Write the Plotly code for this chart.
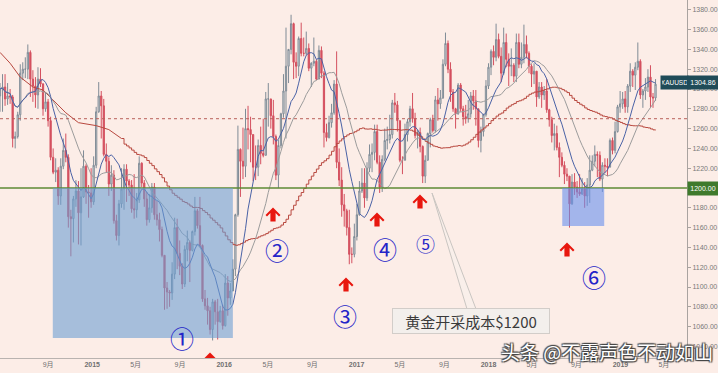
import plotly.graph_objects as go
import pandas as pd

# ---------------- data (weekly XAUUSD candles) ----------------
first_week = "2014-04-21"

ohlc_2014 = [
    (1293, 1306, 1277, 1300), (1300, 1315, 1277, 1302), (1302, 1315, 1283, 1290), (1290, 1306, 1284, 1293),
    (1293, 1300, 1285, 1292), (1292, 1294, 1241, 1250), (1250, 1257, 1240, 1252), (1252, 1277, 1250, 1274),
    (1274, 1325, 1268, 1316), (1316, 1327, 1309, 1320), (1320, 1332, 1311, 1320), (1320, 1345, 1310, 1337),
    (1337, 1339, 1292, 1310), (1310, 1319, 1287, 1303), (1303, 1312, 1281, 1294), (1294, 1322, 1280, 1310),
    (1310, 1321, 1302, 1305), (1305, 1306, 1273, 1280), (1280, 1296, 1277, 1287), (1287, 1290, 1262, 1268),
    (1268, 1272, 1228, 1231), (1231, 1240, 1214, 1216), (1216, 1230, 1206, 1218), (1218, 1221, 1183, 1192),
    (1192, 1230, 1183, 1222), (1222, 1250, 1219, 1238), (1238, 1255, 1226, 1231), (1231, 1234, 1160, 1171),
    (1171, 1178, 1131, 1169), (1169, 1192, 1145, 1189), (1189, 1208, 1181, 1197), (1197, 1207, 1143, 1175),
    (1175, 1220, 1142, 1191), (1191, 1238, 1190, 1222), (1222, 1224, 1184, 1196), (1196, 1203, 1170, 1195),
    (1195, 1220, 1180, 1186),
]
ohlc_2015 = [
    (1186, 1232, 1183, 1223), (1223, 1282, 1220, 1277), (1277, 1307, 1276, 1293), (1293, 1298, 1250, 1283),
    (1283, 1290, 1232, 1234), (1234, 1245, 1216, 1227), (1227, 1231, 1192, 1204), (1204, 1223, 1197, 1213),
    (1213, 1218, 1164, 1167), (1167, 1173, 1147, 1152), (1152, 1188, 1142, 1184), (1184, 1220, 1180, 1199),
    (1199, 1224, 1178, 1219), (1219, 1224, 1186, 1207), (1207, 1209, 1192, 1203), (1203, 1208, 1175, 1179),
    (1179, 1214, 1169, 1178), (1178, 1195, 1170, 1188), (1188, 1232, 1185, 1225), (1225, 1226, 1201, 1205),
    (1205, 1208, 1181, 1189), (1189, 1196, 1162, 1168), (1168, 1194, 1165, 1180), (1180, 1205, 1175, 1201),
    (1201, 1205, 1168, 1173), (1173, 1187, 1162, 1168), (1168, 1175, 1146, 1158), (1158, 1161, 1130, 1132),
    (1132, 1132, 1077, 1099), (1099, 1105, 1078, 1095), (1095, 1097, 1080, 1094), (1094, 1125, 1087, 1113),
    (1113, 1170, 1108, 1160), (1160, 1169, 1118, 1134), (1134, 1147, 1112, 1121), (1121, 1124, 1098, 1103),
    (1103, 1142, 1100, 1138), (1138, 1157, 1126, 1145), (1145, 1147, 1105, 1137), (1137, 1157, 1136, 1156),
    (1156, 1191, 1152, 1177), (1177, 1179, 1159, 1162), (1162, 1191, 1140, 1142), (1142, 1143, 1085, 1088),
    (1088, 1097, 1077, 1081), (1081, 1089, 1062, 1076), (1076, 1080, 1052, 1057), (1057, 1088, 1046, 1085),
    (1085, 1087, 1062, 1075), (1075, 1088, 1047, 1065), (1065, 1081, 1064, 1076), (1076, 1082, 1057, 1061),
]
ohlc_2016 = [
    (1061, 1113, 1060, 1104), (1104, 1111, 1071, 1089), (1089, 1104, 1082, 1096), (1096, 1128, 1096, 1118),
    (1118, 1174, 1111, 1173), (1173, 1263, 1171, 1239), (1239, 1240, 1191, 1227), (1227, 1261, 1209, 1222),
    (1222, 1280, 1211, 1260), (1260, 1283, 1239, 1259), (1259, 1272, 1226, 1254), (1254, 1254, 1207, 1221),
    (1221, 1243, 1208, 1221), (1221, 1249, 1212, 1243), (1243, 1262, 1224, 1235), (1235, 1270, 1231, 1233),
    (1233, 1297, 1233, 1290), (1290, 1306, 1262, 1290), (1290, 1290, 1260, 1273), (1273, 1289, 1244, 1252),
    (1252, 1254, 1208, 1213), (1213, 1249, 1200, 1243), (1243, 1276, 1240, 1275), (1275, 1315, 1271, 1298),
    (1298, 1362, 1250, 1323), (1323, 1340, 1306, 1340), (1340, 1375, 1335, 1366), (1366, 1367, 1310, 1327),
    (1327, 1337, 1311, 1323), (1323, 1353, 1313, 1351), (1351, 1367, 1333, 1336), (1336, 1352, 1333, 1336),
    (1336, 1358, 1334, 1341), (1341, 1346, 1318, 1321), (1321, 1327, 1302, 1326), (1326, 1352, 1323, 1328),
    (1328, 1330, 1309, 1310), (1310, 1344, 1310, 1339), (1339, 1343, 1311, 1316), (1316, 1318, 1241, 1256),
    (1256, 1265, 1247, 1251), (1251, 1273, 1250, 1266), (1266, 1285, 1261, 1276), (1276, 1309, 1274, 1305),
    (1305, 1338, 1220, 1226), (1226, 1240, 1202, 1208), (1208, 1221, 1171, 1183), (1183, 1194, 1161, 1177),
    (1177, 1179, 1152, 1160), (1160, 1178, 1123, 1133), (1133, 1140, 1124, 1133), (1133, 1164, 1130, 1151),
]
ohlc_2017 = [
    (1151, 1184, 1147, 1173), (1173, 1207, 1172, 1197), (1197, 1220, 1195, 1205), (1205, 1220, 1180, 1190),
    (1190, 1226, 1187, 1220), (1220, 1244, 1216, 1234), (1234, 1245, 1216, 1236), (1236, 1264, 1228, 1257),
    (1257, 1264, 1224, 1226), (1226, 1233, 1195, 1201), (1201, 1233, 1196, 1229), (1229, 1260, 1227, 1248),
    (1248, 1262, 1239, 1249), (1249, 1274, 1245, 1254), (1254, 1289, 1250, 1286), (1286, 1296, 1276, 1284),
    (1284, 1288, 1257, 1268), (1268, 1268, 1226, 1228), (1228, 1232, 1214, 1228), (1228, 1265, 1228, 1254),
    (1254, 1270, 1247, 1267), (1267, 1283, 1262, 1280), (1280, 1296, 1266, 1270), (1270, 1276, 1250, 1253),
    (1253, 1259, 1240, 1256), (1256, 1261, 1236, 1242), (1242, 1243, 1205, 1212), (1212, 1233, 1205, 1228),
    (1228, 1256, 1228, 1255), (1255, 1271, 1241, 1269), (1269, 1274, 1256, 1258), (1258, 1293, 1256, 1289),
    (1289, 1301, 1268, 1285), (1285, 1299, 1280, 1291), (1291, 1330, 1290, 1325), (1325, 1357, 1323, 1346),
    (1346, 1349, 1316, 1320), (1320, 1327, 1287, 1297), (1297, 1300, 1277, 1280), (1280, 1281, 1260, 1275),
    (1275, 1306, 1274, 1304), (1304, 1306, 1277, 1280), (1280, 1283, 1263, 1272), (1272, 1284, 1265, 1270),
    (1270, 1289, 1266, 1275), (1275, 1297, 1271, 1293), (1293, 1299, 1279, 1288), (1288, 1299, 1263, 1280),
    (1280, 1280, 1241, 1248), (1248, 1262, 1236, 1257), (1257, 1275, 1252, 1274), (1274, 1309, 1272, 1303),
]
ohlc_2018 = [
    (1303, 1326, 1300, 1322), (1322, 1340, 1314, 1338), (1338, 1344, 1324, 1332), (1332, 1366, 1328, 1350),
    (1350, 1356, 1331, 1333), (1333, 1342, 1307, 1316), (1316, 1362, 1314, 1347), (1347, 1356, 1322, 1330),
    (1330, 1336, 1303, 1323), (1323, 1341, 1313, 1324), (1324, 1326, 1307, 1313), (1313, 1356, 1307, 1347),
    (1347, 1356, 1321, 1325), (1325, 1347, 1321, 1332), (1332, 1365, 1326, 1345), (1345, 1354, 1331, 1336),
    (1336, 1338, 1316, 1323), (1323, 1325, 1302, 1315), (1315, 1326, 1305, 1318), (1318, 1318, 1282, 1292),
    (1292, 1307, 1290, 1302), (1302, 1307, 1281, 1294), (1294, 1303, 1289, 1298), (1298, 1310, 1276, 1279),
    (1279, 1280, 1262, 1269), (1269, 1272, 1246, 1253), (1253, 1265, 1238, 1255), (1255, 1263, 1238, 1241),
    (1241, 1246, 1211, 1231), (1231, 1236, 1221, 1223), (1223, 1227, 1204, 1214), (1214, 1220, 1207, 1212),
    (1212, 1212, 1160, 1184), (1184, 1214, 1183, 1206), (1206, 1215, 1193, 1201), (1201, 1207, 1190, 1196),
    (1196, 1214, 1192, 1194), (1194, 1210, 1193, 1199), (1199, 1206, 1180, 1192), (1192, 1210, 1182, 1203),
    (1203, 1233, 1185, 1218), (1218, 1233, 1217, 1227), (1227, 1243, 1222, 1234), (1234, 1237, 1211, 1233),
    (1233, 1237, 1207, 1209), (1209, 1226, 1196, 1223), (1223, 1230, 1215, 1222), (1222, 1230, 1212, 1221),
    (1221, 1250, 1221, 1248), (1248, 1251, 1234, 1238), (1238, 1267, 1235, 1257), (1257, 1284, 1256, 1282),
    (1282, 1298, 1276, 1285),
]
ohlc_2019 = [
    (1285, 1297, 1280, 1290), (1290, 1298, 1276, 1282), (1282, 1305, 1276, 1303), (1303, 1326, 1297, 1318),
    (1318, 1320, 1302, 1314), (1314, 1327, 1299, 1322), (1322, 1347, 1319, 1328), (1328, 1330, 1290, 1294),
    (1294, 1300, 1281, 1298), (1298, 1311, 1289, 1302), (1302, 1320, 1297, 1312), (1312, 1324, 1281, 1292),
    (1292, 1296, 1281, 1291), (1291, 1310, 1288, 1304.86),
]

# moving-average periods (blue / grey / red)
ma_fast_len = 10
ma_mid_len = 20
ma_slow_len = 50
# red (slow) MA before enough history exists: values
ma_slow_early_dates = ["2014-04-21", "2014-05-19", "2014-06-16", "2014-07-21", "2014-08-18", "2014-09-15",
                       "2014-10-20", "2014-11-24", "2015-01-12", "2015-02-16", "2015-03-23"]
ma_slow_early_vals = [1337, 1326, 1312, 1302, 1299, 1289, 1276, 1266, 1263, 1259, 1250]

support_level = 1200
dashed_level = 1270
last_price = "1304.86"
symbol = "XAUUSD"

tick_dates = ["2014-05-01", "2014-09-01", "2015-01-01", "2015-05-01", "2015-09-01", "2016-01-01",
              "2016-05-01", "2016-09-01", "2017-01-01", "2017-05-01", "2017-09-01", "2018-01-01",
              "2018-05-01", "2018-09-01", "2019-01-01", "2019-05-01"]
tick_text = ["5月", "9月", "<b>2015</b>", "5月", "9月", "<b>2016</b>", "5月", "9月", "<b>2017</b>",
             "5月", "9月", "<b>2018</b>", "5月", "9月", "<b>2019</b>", "5月"]
ytick_vals = [v for v in range(1040, 1381, 20) if v != 1200]   # 1200 is shown by its own tag

zone_boxes = [  # (start, end, low, high, colour)
    ("2014-09-14", "2016-01-25", 1048.5, 1200, "rgba(109,159,211,0.60)"),
    ("2018-07-24", "2018-11-17", 1161.6, 1200, "rgba(104,144,239,0.60)"),
]

# ---------------- build ----------------
rows = ohlc_2014 + ohlc_2015 + ohlc_2016 + ohlc_2017 + ohlc_2018 + ohlc_2019
dates = pd.date_range(first_week, periods=len(rows), freq="7D")
df = pd.DataFrame(rows, columns=["o", "h", "l", "c"], index=dates)

ma_fast = df["c"].rolling(ma_fast_len, min_periods=1).mean()
ma_mid = df["c"].rolling(ma_mid_len, min_periods=1).mean()
ma_slow = df["c"].rolling(ma_slow_len).mean().dropna()
early_x = list(pd.to_datetime(ma_slow_early_dates))
late_x = [early_x[-1]] + list(ma_slow.index)
late_y = [ma_slow_early_vals[-1]] + list(ma_slow.values)

BG = "#fcede7"
FIG_W, FIG_H = 718, 373
PLOT_W, PLOT_H = 687, 358


def fx(px):
    return px / PLOT_W


def fy(py):
    return 1 - py / PLOT_H


fig = go.Figure()
fig.add_trace(go.Candlestick(
    x=df.index, open=df["o"], high=df["h"], low=df["l"], close=df["c"],
    increasing=dict(line=dict(color="#7f8b96", width=1), fillcolor="#e8e8e8"),
    decreasing=dict(line=dict(color="#d4505f", width=1), fillcolor="#d4505f"),
    hoverinfo="skip",
))
SLOW_COL = "#b8483f"
fig.add_trace(go.Scatter(x=early_x, y=ma_slow_early_vals, mode="lines",
                         line=dict(color=SLOW_COL, width=1), hoverinfo="skip"))
fig.add_trace(go.Scatter(x=late_x, y=late_y, mode="lines",
                         line=dict(color=SLOW_COL, width=1, shape="hv"), hoverinfo="skip"))
fig.add_trace(go.Scatter(x=ma_mid.index, y=ma_mid.values, mode="lines", line=dict(color="#9c9c9c", width=1),
                         hoverinfo="skip"))
fig.add_trace(go.Scatter(x=ma_fast.index, y=ma_fast.values, mode="lines", line=dict(color="#4a62a6", width=1),
                         hoverinfo="skip"))

shapes = []
shapes.append(dict(type="line", xref="paper", x0=0, x1=1, yref="y", y0=dashed_level, y1=dashed_level,
                   line=dict(color="#b8605a", width=1, dash="dot"), layer="above"))
shapes.append(dict(type="line", xref="paper", x0=0, x1=1, yref="y", y0=support_level, y1=support_level,
                   line=dict(color="#5e8a35", width=1.5), layer="above"))
for x0, x1, y0, y1, col in zone_boxes:
    shapes.append(dict(type="rect", xref="x", yref="y", x0=x0, x1=x1, y0=y0, y1=y1,
                       fillcolor=col, line=dict(width=0), layer="above"))

ARROW = "M 0 7.5 L 7.5 0 L 6 -1.5 L 2.6 2 L 2.6 -6.5 L -2.6 -6.5 L -2.6 2 L -6 -1.5 L -7.5 0 Z"
for cx, cy in [(273, 215), (346, 285), (377, 220), (420, 202), (567, 250)]:
    shapes.append(dict(type="path", xref="paper", yref="paper", xsizemode="pixel", ysizemode="pixel",
                       xanchor=fx(cx), yanchor=fy(cy), path=ARROW, fillcolor="#e8170f",
                       line=dict(width=0), layer="above"))
# low marker on the bottom axis
shapes.append(dict(type="path", xref="paper", yref="paper", xsizemode="pixel", ysizemode="pixel",
                   xanchor=fx(210), yanchor=0, path="M -5.5 0 L 0 5.5 L 5.5 0 Z", fillcolor="#e8170f",
                   line=dict(width=0), layer="above"))
# callout pointer
shapes.append(dict(type="path", xref="paper", yref="paper", xsizemode="pixel", ysizemode="pixel",
                   xanchor=0, yanchor=1, path="M 432 -193 L 467 -309 L 476 -309 Z",
                   fillcolor="rgba(245,241,238,0.5)", line=dict(color="#c9c5c1", width=1), layer="above"))

ann = []
for txt, cx, cy, sz in [("①", 182, 337, 24), ("②", 277, 249, 24), ("③", 345, 315, 24),
                        ("④", 385, 248, 24), ("⑤", 425, 244, 19), ("⑥", 594, 276, 24)]:
    ann.append(dict(text=txt, x=fx(cx), y=fy(cy), xref="paper", yref="paper", showarrow=False,
                    xanchor="center", yanchor="middle",
                    font=dict(family="Noto Sans CJK SC", size=sz, color="#2424c8")))
ann.append(dict(text="黄金开采成本$1200", x=fx(471), y=fy(321), xref="paper", yref="paper", showarrow=False,
                xanchor="center", yanchor="middle", width=154, height=22,
                bgcolor="#f3efec", bordercolor="#d2cdc9", borderwidth=1,
                font=dict(family="Noto Sans CJK SC", size=15, color="#3a3a3a")))
ann.append(dict(text=symbol, x=fx(674), y=fy(82), xref="paper", yref="paper", showarrow=False,
                xanchor="center", yanchor="middle", width=25, height=11, bgcolor="#1f4b58",
                font=dict(family="Liberation Sans", size=6.5, color="white")))
ann.append(dict(text=last_price, x=fx(703), y=fy(82), xref="paper", yref="paper", showarrow=False,
                xanchor="center", yanchor="middle", width=28, height=11, bgcolor="#1f4b58",
                font=dict(family="Liberation Sans", size=7, color="white")))
ann.append(dict(text=f"{support_level:.2f}", x=fx(703), y=fy(188), xref="paper", yref="paper", showarrow=False,
                xanchor="center", yanchor="middle", width=28, height=11, bgcolor="#3f7a2c",
                font=dict(family="Liberation Sans", size=7, color="white")))
ann.append(dict(text="头条 @不露声色不动如山", x=fx(607), y=fy(351), xref="paper", yref="paper", showarrow=False,
                xanchor="center", yanchor="middle",
                font=dict(family="Noto Sans CJK SC", size=19, color="white",
                          shadow="1px 1px 1px #444, -1px -1px 1px #444, 1px -1px 1px #444, -1px 1px 1px #444")))

fig.update_layout(
    width=FIG_W, height=FIG_H,
    margin=dict(l=0, r=FIG_W - PLOT_W, t=0, b=FIG_H - PLOT_H),
    paper_bgcolor=BG, plot_bgcolor=BG,
    showlegend=False, hovermode=False,
    shapes=shapes, annotations=ann,
    xaxis=dict(type="date", range=["2014-04-21", "2019-07-04"], rangeslider=dict(visible=False),
               tickvals=tick_dates, ticktext=tick_text, showgrid=False, zeroline=False,
               showline=True, linecolor="#b9b3b0", linewidth=1, ticks="",
               tickfont=dict(family="Liberation Sans, Noto Sans CJK SC", size=7, color="#707070")),
    yaxis=dict(side="right", range=[1028.3, 1389.9], tickvals=ytick_vals, tickformat=".2f",
               showgrid=False, zeroline=False, showline=True, linecolor="#a9a3a0", linewidth=1,
               ticks="outside", ticklen=3, tickcolor="#a9a3a0",
               tickfont=dict(family="Liberation Sans", size=7, color="#7a7a7a")),
)

fig.write_html("out.html", config={"displayModeBar": False})
